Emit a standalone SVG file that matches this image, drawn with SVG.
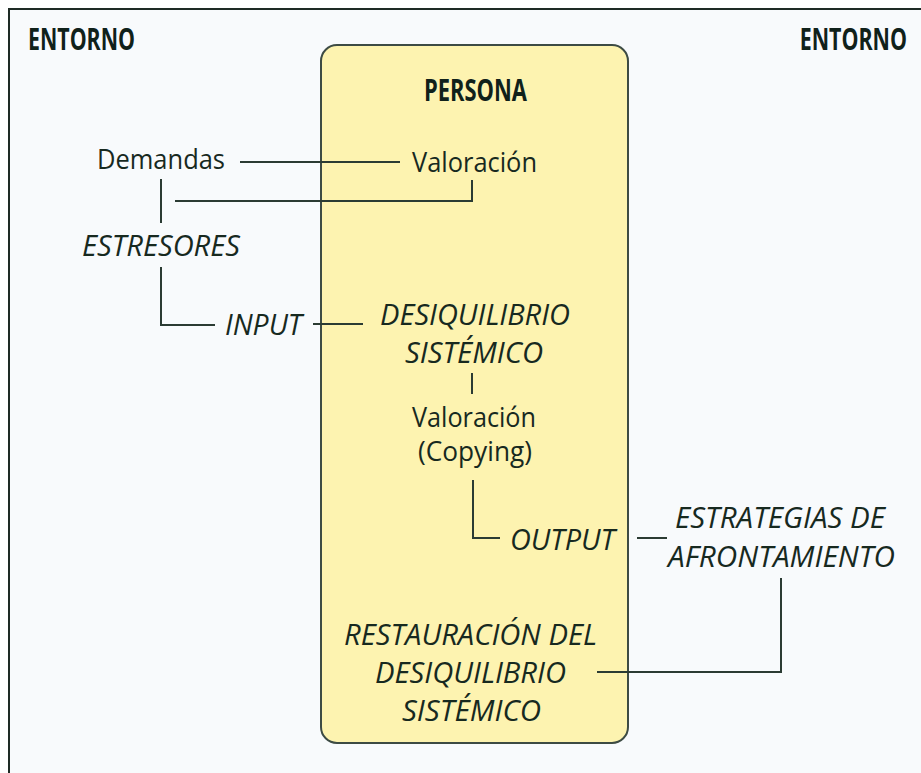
<svg xmlns="http://www.w3.org/2000/svg" width="921" height="773" viewBox="0 0 921 773">
<style>
  .t { font-family: "Open Sans", "Noto Sans", sans-serif; fill: #17291f; }
  .h { font-family: "Open Sans", "Liberation Sans", sans-serif; font-weight: 700; font-size: 30px; fill: #10211a; }
  .r { font-size: 27px; }
  .i { font-size: 29px; font-style: italic; }
  .ln { fill: none; stroke: #2b3b33; stroke-width: 2; }
</style>
<rect x="0" y="0" width="921" height="773" fill="#ffffff"/>
<rect x="9" y="9" width="912" height="764" fill="#f8fafc"/>
<path d="M9 773 V9 H921" fill="none" stroke="#1e2b25" stroke-width="2"/>

<g id="entorno-left"><text class="h" x="28" y="50" textLength="107" lengthAdjust="spacingAndGlyphs">ENTORNO</text></g>
<g id="entorno-right"><text class="h" transform="translate(907 50) scale(0.713 1)" x="0" y="0" text-anchor="end">ENTORNO</text></g>

<g id="persona">
  <rect x="321" y="45" width="307" height="698" rx="16" ry="16" fill="#fdf3b0" stroke="#3d4b44" stroke-width="2"/>
  <text class="h" x="424" y="101" textLength="103" lengthAdjust="spacingAndGlyphs">PERSONA</text>
</g>

<g id="connectors">
  <path class="ln" d="M240 162 H400"/>
  <path class="ln" d="M472 180 V201 H175"/>
  <path class="ln" d="M161 179 V223"/>
  <path class="ln" d="M161 267 V325 H215"/>
  <path class="ln" d="M313 324 H363"/>
  <path class="ln" d="M472 373 V394"/>
  <path class="ln" d="M473 480 V538 H500"/>
  <path class="ln" d="M637 538 H667"/>
  <path class="ln" d="M781 578 V672 H597"/>
</g>

<g id="demandas"><text class="t r" x="97" y="169" textLength="128" lengthAdjust="spacingAndGlyphs">Demandas</text></g>
<g id="valoracion-1"><text class="t r" x="412" y="172" textLength="125" lengthAdjust="spacingAndGlyphs">Valoración</text></g>
<g id="estresores"><text class="t i" x="82" y="256" textLength="158" lengthAdjust="spacingAndGlyphs">ESTRESORES</text></g>
<g id="input"><text class="t i" x="225" y="335" textLength="77" lengthAdjust="spacingAndGlyphs">INPUT</text></g>
<g id="desequilibrio">
  <text class="t i" x="380" y="325" textLength="190" lengthAdjust="spacingAndGlyphs">DESIQUILIBRIO</text>
  <text class="t i" x="405" y="363" textLength="138" lengthAdjust="spacingAndGlyphs">SISTÉMICO</text>
</g>
<g id="valoracion-copying">
  <text class="t r" x="412" y="427" textLength="124" lengthAdjust="spacingAndGlyphs">Valoración</text>
  <text class="t r" x="418" y="461" textLength="114" lengthAdjust="spacingAndGlyphs">(Copying)</text>
</g>
<g id="output"><text class="t i" x="510" y="550" textLength="105" lengthAdjust="spacingAndGlyphs">OUTPUT</text></g>
<g id="estrategias">
  <text class="t i" x="675" y="528" textLength="210" lengthAdjust="spacingAndGlyphs">ESTRATEGIAS DE</text>
  <text class="t i" x="668" y="567" textLength="227" lengthAdjust="spacingAndGlyphs">AFRONTAMIENTO</text>
</g>
<g id="restauracion">
  <text class="t i" x="344" y="645" textLength="253" lengthAdjust="spacingAndGlyphs">RESTAURACIÓN DEL</text>
  <text class="t i" x="375" y="683" textLength="191" lengthAdjust="spacingAndGlyphs">DESIQUILIBRIO</text>
  <text class="t i" x="402" y="721" textLength="139" lengthAdjust="spacingAndGlyphs">SISTÉMICO</text>
</g>
</svg>
